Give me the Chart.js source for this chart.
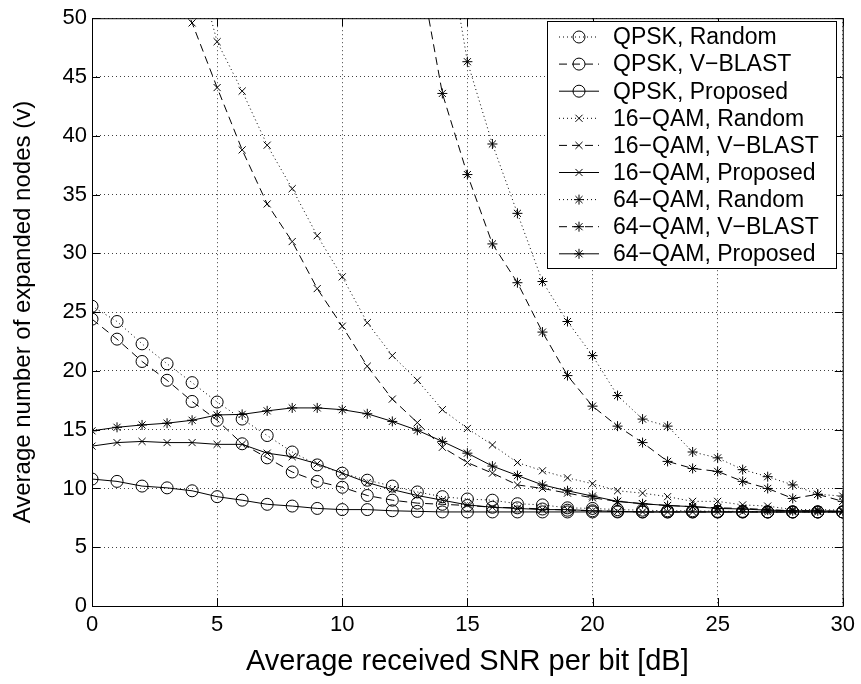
<!DOCTYPE html>
<html>
<head>
<meta charset="utf-8">
<script src="https://cdn.jsdelivr.net/npm/chart.js@4.4.1/dist/chart.umd.min.js"></script>
<style>
  html, body { margin: 0; padding: 0; background: #fff; }
  #wrap { width: 861px; height: 684px; }
</style>
</head>
<body>
<div id="wrap"><canvas id="grafico" width="861" height="684"></canvas></div>
<script>
// SNR per bit [dB]
const snr = [0, 1, 2, 3, 4, 5, 6, 7, 8, 9, 10, 11, 12, 13, 14, 15, 16, 17, 18, 19, 20, 21, 22, 23, 24, 25, 26, 27, 28, 29, 30];

// average number of expanded nodes, null = not on the plot
const qpskRandom   = [25.5, 24.2, 22.3, 20.6, 19.0, 17.35, 15.9, 14.5, 13.1, 12.0, 11.3, 10.7, 10.2, 9.7, 9.3, 9.1, 9.0, 8.7, 8.6, 8.35, 8.3, 8.2, 8.15, 8.1, 8.1, 8.05, 8.05, 8.0, 8.0, 8.0, 8.0];
const qpskVblast   = [24.4, 22.7, 20.8, 19.2, 17.4, 15.8, 13.8, 12.6, 11.4, 10.6, 10.1, 9.4, 9.0, 8.75, 8.65, 8.55, 8.4, 8.35, 8.25, 8.15, 8.1, 8.05, 8.0, 8.0, 8.0, 8.0, 8.0, 8.0, 8.0, 8.0, 8.0];
const qpskProposed = [10.8, 10.6, 10.2, 10.05, 9.8, 9.3, 9.0, 8.65, 8.5, 8.3, 8.2, 8.2, 8.1, 8.05, 8.0, 8.0, 8.0, 8.0, 8.0, 8.0, 8.0, 8.0, 8.0, 8.0, 8.0, 8.0, 8.0, 8.0, 8.0, 8.0, 8.0];
const qam16Random   = [null, null, null, null, 56.0, 48.0, 43.8, 39.2, 35.5, 31.5, 28.0, 24.1, 21.3, 19.2, 16.7, 15.1, 13.7, 12.2, 11.5, 10.9, 10.4, 9.8, 9.6, 9.3, 8.9, 8.9, 8.6, 8.5, 8.2, 8.2, 8.15];
const qam16Vblast   = [null, null, null, 55.0, 49.6, 44.1, 38.8, 34.2, 31.0, 27.0, 23.8, 20.4, 17.6, 15.6, 13.5, 12.2, 11.3, 10.3, 10.0, 9.6, 9.2, 8.9, 8.7, 8.55, 8.45, 8.35, 8.3, 8.2, 8.1, 8.1, 8.05];
const qam16Proposed = [13.6, 13.9, 14.0, 13.9, 13.9, 13.75, 13.75, 13.0, 12.7, 12.1, 11.3, 10.5, 9.9, 9.4, 9.0, 8.6, 8.4, 8.3, 8.2, 8.2, 8.1, 8.05, 8.0, 8.0, 8.0, 8.0, 8.0, 8.0, 8.0, 8.0, 8.0];
const qam64Random   = [null, null, null, null, null, null, null, null, null, null, null, null, null, null, 59.0, 46.3, 39.3, 33.4, 27.6, 24.2, 21.3, 17.9, 15.9, 15.3, 13.1, 12.6, 11.6, 11.0, 10.3, 9.5, 9.35];
const qam64Vblast   = [null, null, null, null, null, null, null, null, null, null, null, null, null, 55.4, 43.6, 36.7, 30.8, 27.5, 23.3, 19.6, 17.0, 15.3, 13.9, 12.3, 11.7, 11.45, 10.6, 10.0, 9.15, 9.5, 8.9];
const qam64Proposed = [14.9, 15.2, 15.4, 15.55, 15.8, 16.25, 16.3, 16.6, 16.85, 16.85, 16.7, 16.35, 15.7, 14.95, 14.0, 13.0, 11.9, 11.1, 10.3, 9.8, 9.35, 8.9, 8.7, 8.55, 8.45, 8.3, 8.25, 8.15, 8.1, 8.1, 8.05];

const xTicks = [0, 5, 10, 15, 20, 25, 30];
const yTicks = [0, 5, 10, 15, 20, 25, 30, 35, 40, 45, 50];

const fonte = "'Liberation Sans', Arial, Helvetica, sans-serif";

const DOT = [1, 3];
const DASH = [8, 5];
const SOLID = [];

const series = [
    { label: "QPSK, Random",     values: qpskRandom,    marker: "circle",   dash: DOT },
    { label: "QPSK, V\u2212BLAST",    values: qpskVblast,    marker: "circle",   dash: DASH },
    { label: "QPSK, Proposed",   values: qpskProposed,  marker: "circle",   dash: SOLID },
    { label: "16\u2212QAM, Random",   values: qam16Random,   marker: "crossRot", dash: DOT },
    { label: "16\u2212QAM, V\u2212BLAST",  values: qam16Vblast,   marker: "crossRot", dash: DASH },
    { label: "16\u2212QAM, Proposed", values: qam16Proposed, marker: "crossRot", dash: SOLID },
    { label: "64\u2212QAM, Random",   values: qam64Random,   marker: "star",     dash: DOT },
    { label: "64\u2212QAM, V\u2212BLAST",  values: qam64Vblast,   marker: "star",     dash: DASH },
    { label: "64\u2212QAM, Proposed", values: qam64Proposed, marker: "star",     dash: SOLID }
];

const raio = { circle: 6, crossRot: 5, star: 5 };

const datasets = series.map(s => ({
    label: s.label,
    data: snr.map((x, i) => ({ x: x, y: s.values[i] })).filter(p => p.y !== null),
    borderColor: "#000",
    backgroundColor: "rgba(0,0,0,0)",
    borderWidth: 1,
    borderDash: s.dash,
    pointStyle: s.marker,
    pointRadius: raio[s.marker],
    pointBorderColor: "#000",
    pointBackgroundColor: "rgba(0,0,0,0)",
    pointBorderWidth: 1,
    tension: 0
}));

// box, inward ticks and legend like the matlab figure
const moldura = {
    id: "moldura",
    afterDraw(chart) {
        const ctx = chart.ctx;
        const a = chart.chartArea;
        const sx = chart.scales.x, sy = chart.scales.y;
        ctx.save();
        ctx.strokeStyle = "#000";
        ctx.lineWidth = 1;
        ctx.setLineDash([]);
        ctx.strokeRect(a.left + 0.5, a.top + 0.5, a.right - a.left, a.bottom - a.top);
        ctx.beginPath();
        xTicks.forEach(v => {
            const px = Math.round(sx.getPixelForValue(v)) + 0.5;
            ctx.moveTo(px, a.bottom); ctx.lineTo(px, a.bottom - 8);
            ctx.moveTo(px, a.top); ctx.lineTo(px, a.top + 8);
        });
        yTicks.forEach(v => {
            const py = Math.round(sy.getPixelForValue(v)) + 0.5;
            ctx.moveTo(a.left, py); ctx.lineTo(a.left + 8, py);
            ctx.moveTo(a.right, py); ctx.lineTo(a.right - 8, py);
        });
        ctx.stroke();

        // legend
        const lx = 547, ly = 21, lw = 289, lh = 247, passo = 27.1;
        ctx.fillStyle = "#fff";
        ctx.fillRect(lx, ly, lw, lh);
        ctx.strokeRect(lx + 0.5, ly + 0.5, lw, lh);
        ctx.font = "23px " + fonte;
        ctx.textBaseline = "middle";
        ctx.textAlign = "left";
        series.forEach((s, i) => {
            const y = ly + 16 + i * passo;
            ctx.strokeStyle = "#000";
            ctx.lineWidth = 1;
            ctx.setLineDash(s.dash);
            ctx.beginPath();
            ctx.moveTo(559, y); ctx.lineTo(599, y);
            ctx.stroke();
            ctx.setLineDash([]);
            ctx.fillStyle = "rgba(0,0,0,0)";
            Chart.helpers.drawPoint(ctx, { pointStyle: s.marker, radius: raio[s.marker], rotation: 0, borderWidth: 1 }, 579, y);
            ctx.fillStyle = "#000";
            ctx.fillText(s.label, 613, y + 1);
        });
        ctx.restore();
    }
};

new Chart(document.getElementById("grafico").getContext("2d"), {
    type: "line",
    data: { datasets: datasets },
    options: {
        responsive: false,
        animation: false,
        layout: { padding: { top: 12, right: 16, left: 0, bottom: 0 } },
        plugins: { legend: { display: false }, tooltip: { enabled: false } },
        scales: {
            x: {
                type: "linear",
                min: 0,
                max: 30,
                afterBuildTicks: s => { s.ticks = xTicks.map(v => ({ value: v })); },
                afterFit: s => { s.height = 78; },
                ticks: { color: "#000", font: { family: fonte, size: 22 }, padding: 6, maxRotation: 0 },
                grid: { color: "rgba(0,0,0,0.75)", lineWidth: 1, drawTicks: false },
                border: { display: false, dash: DOT },
                title: { display: true, text: "Average received SNR per bit [dB]", color: "#000",
                         font: { family: fonte, size: 29, lineHeight: 1 }, padding: { top: 0, bottom: 8 } }
            },
            y: {
                min: 0,
                max: 50,
                afterBuildTicks: s => { s.ticks = yTicks.map(v => ({ value: v })); },
                afterFit: s => { s.width = 92; },
                ticks: { color: "#000", font: { family: fonte, size: 22 }, padding: 5 },
                grid: { color: "rgba(0,0,0,0.75)", lineWidth: 1, drawTicks: false },
                border: { display: false, dash: DOT },
                title: { display: true, text: "Average number of expanded nodes (v)", color: "#000",
                         font: { family: fonte, size: 24, lineHeight: 1 }, padding: { top: 11, bottom: 0 } }
            }
        }
    },
    plugins: [moldura]
});
</script>
</body>
</html>
